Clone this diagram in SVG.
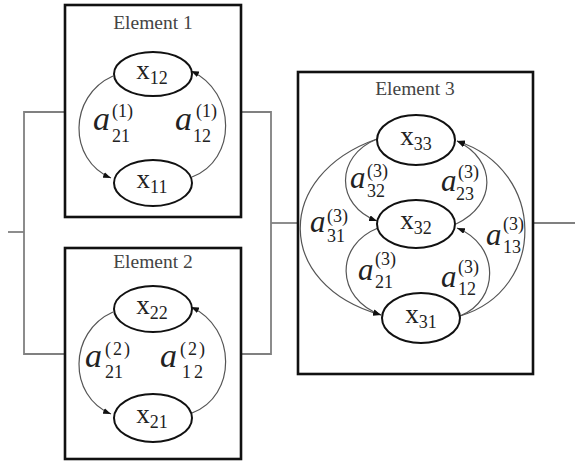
<svg xmlns="http://www.w3.org/2000/svg" width="575" height="461" viewBox="0 0 575 461">
<style>
.box{fill:#fff;stroke:#111;stroke-width:2.6}
.node{fill:#fff;stroke:#111;stroke-width:2}
.wire{fill:none;stroke:#808080;stroke-width:1.8}
.arc{fill:none;stroke:#555;stroke-width:1.2;marker-end:url(#ah)}
.title{font-family:"Liberation Serif",serif;font-size:19.5px;fill:#444;text-anchor:middle}
.nt{font-family:"Liberation Serif",serif;font-size:27px;fill:#222;text-anchor:middle}
.nt tspan{font-size:18px}
.a{font-family:"Liberation Serif",serif;font-style:italic;font-size:34px;fill:#222}
.a3{font-family:"Liberation Serif",serif;font-style:italic;font-size:31px;fill:#222}
.s{font-family:"Liberation Serif",serif;font-size:18px;fill:#222}
</style>
<defs>
<marker id="ah" markerUnits="userSpaceOnUse" markerWidth="8" markerHeight="6" refX="8" refY="3" orient="auto">
<path d="M0,0 L8,3 L0,6 z" fill="#111"/>
</marker>
</defs>
<rect width="575" height="461" fill="#fff"/>
<g id="connectors">
<polyline class="wire" points="8,232 24,232"/>
<polyline class="wire" points="65,112 24,112 24,354 65,354"/>
<polyline class="wire" points="241,112 271,112 271,354 241,354"/>
<polyline class="wire" points="271,223 298,223"/>
<polyline class="wire" points="533,223 575,223"/>
</g>
<g id="element1">
<rect class="box" x="65" y="5" width="176" height="212"/>
<text class="title" x="153" y="29">Element 1</text>
<path class="arc" d="M113,76 C68,96 68,160 111,178"/>
<path class="arc" d="M192,177 C237,160 237,92 191,71"/>
<g id="x12"><ellipse class="node" cx="153" cy="74" rx="39" ry="22"/><text class="nt" x="152" y="79">x<tspan dy="5">12</tspan></text></g>
<g id="x11"><ellipse class="node" cx="153" cy="183" rx="39" ry="23"/><text class="nt" x="152" y="188">x<tspan dy="5">11</tspan></text></g>
<text class="a" x="93" y="130">a</text><text class="s" x="112" y="142">21</text><text class="s" x="112" y="117">(1)</text>
<text class="a" x="175" y="130">a</text><text class="s" x="193" y="142">12</text><text class="s" x="196" y="117">(1)</text>
</g>
<g id="element2">
<rect class="box" x="65" y="248" width="176" height="211"/>
<text class="title" x="153" y="268">Element 2</text>
<path class="arc" d="M113,312 C68,332 68,396 111,414"/>
<path class="arc" d="M192,413 C237,396 237,328 191,307"/>
<g id="x22"><ellipse class="node" cx="153" cy="309" rx="39" ry="23"/><text class="nt" x="152" y="314">x<tspan dy="5">22</tspan></text></g>
<g id="x21"><ellipse class="node" cx="153" cy="418" rx="39" ry="24"/><text class="nt" x="152" y="423">x<tspan dy="5">21</tspan></text></g>
<text class="a" x="85" y="367">a</text><text class="s" x="105" y="378">21</text><text class="s" x="105" y="355" letter-spacing="2">(2)</text>
<text class="a" x="160" y="367">a</text><text class="s" x="182" y="378" letter-spacing="3">12</text><text class="s" x="180" y="355" letter-spacing="2">(2)</text>
</g>
<g id="element3">
<rect class="box" x="298" y="72" width="235" height="302"/>
<text class="title" x="415" y="95">Element 3</text>
<path class="arc" d="M377,139 C335,156 335,205 377,221"/>
<path class="arc" d="M456,224 C497,205 497,160 457,141"/>
<path class="arc" d="M378,228 C335,245 335,298 381,315"/>
<path class="arc" d="M460,316 C500,300 500,245 457,228"/>
<path class="arc" d="M377,139 C274,175 274,285 381,315"/>
<path class="arc" d="M460,316 C547,290 547,170 457,141"/>
<g id="x33"><ellipse class="node" cx="416" cy="140" rx="39" ry="25"/><text class="nt" x="416" y="145">x<tspan dy="5">33</tspan></text></g>
<g id="x32"><ellipse class="node" cx="416" cy="224" rx="39" ry="24"/><text class="nt" x="416" y="229">x<tspan dy="5">32</tspan></text></g>
<g id="x31"><ellipse class="node" cx="421" cy="318" rx="39" ry="25"/><text class="nt" x="421" y="323">x<tspan dy="5">31</tspan></text></g>
<text class="a3" x="350" y="188">a</text><text class="s" x="367" y="197">32</text><text class="s" x="367" y="177">(3)</text>
<text class="a3" x="441" y="191">a</text><text class="s" x="456" y="200">23</text><text class="s" x="458" y="178">(3)</text>
<text class="a3" x="310" y="232">a</text><text class="s" x="327" y="242">31</text><text class="s" x="327" y="222">(3)</text>
<text class="a3" x="486" y="245">a</text><text class="s" x="503" y="253">13</text><text class="s" x="503" y="230">(3)</text>
<text class="a3" x="358" y="280">a</text><text class="s" x="375" y="288">21</text><text class="s" x="375" y="265">(3)</text>
<text class="a3" x="441" y="287">a</text><text class="s" x="458" y="295">12</text><text class="s" x="458" y="273">(3)</text>
</g>
</svg>
